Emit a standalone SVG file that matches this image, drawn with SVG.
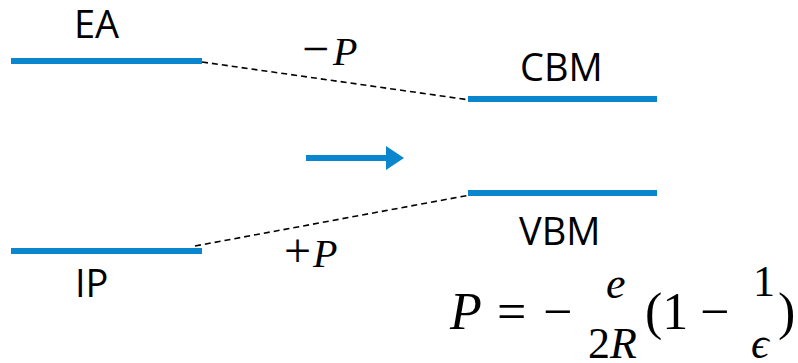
<svg xmlns="http://www.w3.org/2000/svg" width="798" height="363" viewBox="0 0 798 363">
<defs>
<style>
.lvl{stroke:#0a86cf;stroke-width:6;fill:none}
.lbl{font-family:"Open Sans","Liberation Sans",sans-serif;font-size:38px;fill:#000}
.math{font-family:"Liberation Serif","DejaVu Serif",serif;fill:#000}
.it{font-style:italic}
.dash{stroke:#000;stroke-width:1.6;stroke-dasharray:6,4;fill:none}
</style>
<marker id="ah" markerWidth="4" markerHeight="4" refX="0" refY="2" orient="auto" markerUnits="strokeWidth">
<path d="M0,0 L3,2 L0,4 Z" fill="#0a86cf"/>
</marker>
</defs>
<rect width="798" height="363" fill="#fff"/>
<g id="connectors">
<line class="dash" x1="202" y1="62" x2="470" y2="100"/>
<line class="dash" x1="195" y1="246" x2="470" y2="195"/>
<line x1="306" y1="158" x2="386" y2="158" stroke="#0a86cf" stroke-width="6" marker-end="url(#ah)"/>
</g>
<g id="EA">
<line class="lvl" x1="11" y1="61" x2="202" y2="61"/>
<text class="lbl" x="74" y="38">EA</text>
</g>
<g id="IP">
<line class="lvl" x1="11" y1="251" x2="202" y2="251"/>
<text class="lbl" x="75" y="297">IP</text>
</g>
<g id="CBM">
<line class="lvl" x1="468" y1="99" x2="657" y2="99"/>
<text class="lbl" x="520" y="81">CBM</text>
</g>
<g id="VBM">
<line class="lvl" x1="468" y1="193" x2="657" y2="193"/>
<text class="lbl" x="519" y="245">VBM</text>
</g>
<g id="labels">
<text class="math" x="302" y="65" font-size="48">−<tspan class="it" x="333" font-size="40">P</tspan></text>
<text class="math" x="284" y="267" font-size="48">+<tspan class="it" x="313" font-size="40">P</tspan></text>
</g>
<g id="formula" class="math" font-size="52">
<text x="450" y="329"><tspan class="it">P</tspan></text>
<text x="497" y="329">=</text>
<text x="543" y="329">−</text>
<text x="606" y="298" class="it" font-size="44">e</text>
<text x="588" y="358" font-size="44">2<tspan class="it">R</tspan></text>
<text x="645" y="329">(1</text>
<text x="700" y="329">−</text>
<text x="753" y="296" font-size="44">1</text>
<text x="751" y="358" class="it" font-size="44">ϵ</text>
<text x="778" y="329">)</text>
</g>
</svg>
